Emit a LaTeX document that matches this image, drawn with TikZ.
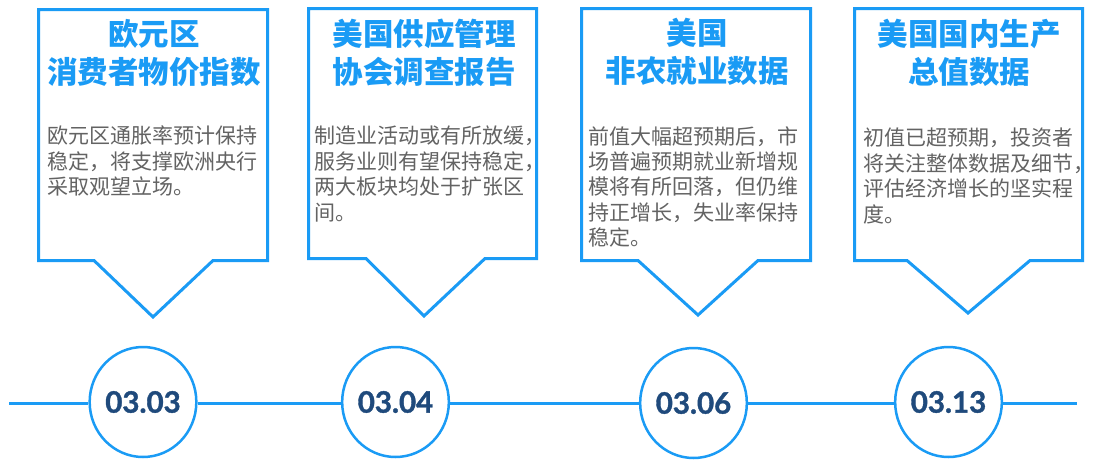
\documentclass[tikz,border=0pt]{standalone}
\usepackage{fontspec}
\usetikzlibrary{shapes.geometric}
\newfontfamily\cjk{Noto Sans CJK SC}
\newfontfamily\datef{Lato}[BoldFeatures={FakeBold=1.2}]
\definecolor{tblue}{HTML}{1A9BF5}
\definecolor{tgray}{HTML}{636363}
\definecolor{tnavy}{HTML}{1F4A7C}
\tikzset{
  callout/.style={draw=tblue, line width=3pt, line join=miter, fill=white},
  ttl/.style={anchor=north, align=center, inner sep=0pt, text=tblue,
    font=\cjk\bfseries\fontsize{30.5}{38}\selectfont},
  bodytxt/.style={anchor=north west, align=left, inner sep=0pt, text=tgray,
    font=\cjk\fontsize{21}{25.4}\selectfont},
  datecirc/.style={ellipse, draw=tblue, line width=2.5pt, fill=white,
    minimum width=104pt, minimum height=110pt, inner sep=0pt, text=tnavy,
    font=\datef\bfseries\fontsize{29.5}{29.5}\selectfont},
  tline/.style={draw=tblue, line width=3pt}
}
\begin{document}
\begin{tikzpicture}[x=1pt,y=-1pt]
\useasboundingbox (0,0) rectangle (1108,461);
% callout boxes
\draw[callout] (38.5,9.5) -- (267.5,9.5) -- (267.5,260.5) -- (213,260.5) -- (153,317) -- (94,260.5) -- (38.5,260.5) -- cycle;
\draw[callout] (308.5,8.5) -- (536.5,8.5) -- (536.5,258.5) -- (485,258.5) -- (424,316) -- (366,258.5) -- (308.5,258.5) -- cycle;
\draw[callout] (581.5,8.5) -- (810.5,8.5) -- (810.5,260.5) -- (758,260.5) -- (698,315) -- (638,260.5) -- (581.5,260.5) -- cycle;
\draw[callout] (854.5,8.5) -- (1082.5,8.5) -- (1082.5,260.5) -- (1030,260.5) -- (968,313) -- (907,260.5) -- (854.5,260.5) -- cycle;
% titles
\node[ttl] (t1) at (154,19) {欧元区\\消费者物价指数};
\node[ttl] (t2) at (424,19) {美国供应管理\\协会调查报告};
\node[ttl] (t3) at (697,18) {美国\\非农就业数据};
\node[ttl] (t4) at (969,19) {美国国内生产\\总值数据};
% bodies
\node[bodytxt] (d1) at (47,126) {欧元区通胀率预计保持\\稳定，将支撑欧洲央行\\采取观望立场。};
\node[bodytxt] (d2) at (314,126) {制造业活动或有所放缓，\\服务业则有望保持稳定，\\两大板块均处于扩张区\\间。};
\node[bodytxt] (d3) at (588,126) {前值大幅超预期后，市\\场普遍预期就业新增规\\模将有所回落，但仍维\\持正增长，失业率保持\\稳定。};
\node[bodytxt] (d4) at (863,128) {初值已超预期，投资者\\将关注整体数据及细节，\\评估经济增长的坚实程\\度。};
% timeline
\coordinate (lstart) at (9,403.5);
\coordinate (lend) at (1077,403.5);
\node[datecirc] (c1) at (143,402) {03.03};
\node[datecirc] (c2) at (395.5,402) {03.04};
\node[datecirc] (c3) at (693.5,403) {03.06};
\node[datecirc] (c4) at (948.5,402) {03.13};
\draw[tline] (lstart) -- (c1.west |- lstart);
\draw[tline] (c1.east |- lstart) -- (c2.west |- lstart);
\draw[tline] (c2.east |- lstart) -- (c3.west |- lstart);
\draw[tline] (c3.east |- lstart) -- (c4.west |- lstart);
\draw[tline] (c4.east |- lstart) -- (lend);
\end{tikzpicture}
\end{document}
